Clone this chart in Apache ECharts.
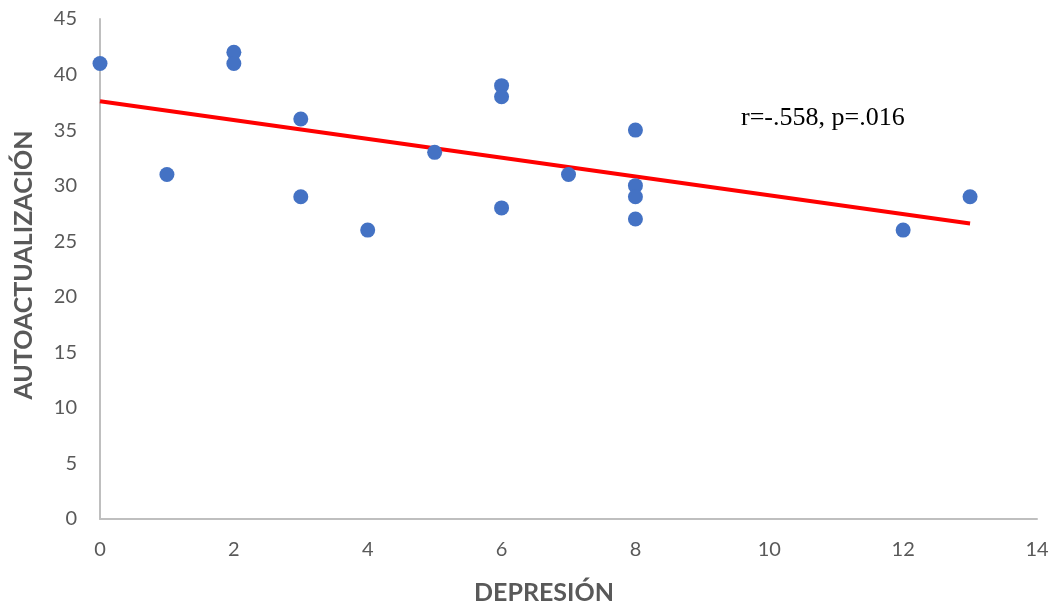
<!DOCTYPE html>
<html><head><meta charset="utf-8">
<script src="https://cdn.jsdelivr.net/npm/echarts@6/dist/echarts.min.js"></script>
<style>html,body{margin:0;padding:0;background:#fff}#c{width:1055px;height:608px}</style>
</head><body><div id="c"></div>
<script>
const depresion = [0, 1, 2, 2, 3, 3, 4, 5, 6, 6, 6, 7, 8, 8, 8, 8, 12, 13];
const autoactualizacion = [41, 31, 42, 41, 36, 29, 26, 33, 39, 38, 28, 31, 35, 30, 29, 27, 26, 29];
const trendX = [0, 13];
const trendY = [37.6, 26.6];
const annotation = 'r=-.558, p=.016';
const xTitle = 'DEPRESIÓN';
const yTitle = 'AUTOACTUALIZACIÓN';

const FONT = 'Lato, Open Sans, Noto Sans, sans-serif';
const chart = echarts.init(document.getElementById('c'));
const axisLabel = {color: '#595959', fontSize: 20, fontFamily: FONT};
const axisLine = {show: true, lineStyle: {color: '#bfbfbf', width: 2}};
chart.setOption({
  animation: false,
  grid: {left: 100, right: 18, top: 19, bottom: 89, containLabel: false, outerBoundsMode: 'none'},
  xAxis: {
    type: 'value', min: 0, max: 14, interval: 2,
    axisLine, axisTick: {show: false}, splitLine: {show: false},
    axisLabel: Object.assign({margin: 21}, axisLabel)
  },
  yAxis: {
    type: 'value', min: 0, max: 45, interval: 5,
    axisLine, axisTick: {show: false}, splitLine: {show: false},
    axisLabel: Object.assign({margin: 23}, axisLabel)
  },
  graphic: [{
    type: 'text', left: 741, top: 105,
    style: {text: annotation, fill: '#000', fontSize: 26, fontFamily: 'Liberation Serif, Times New Roman, serif'}
  }, {
    type: 'text', x: 544, y: 593,
    style: {text: xTitle, fill: '#595959', fontSize: 25, fontWeight: 'bold', fontFamily: FONT, align: 'center', verticalAlign: 'middle'}
  }, {
    type: 'text', x: 24, y: 265, rotation: Math.PI / 2,
    style: {text: yTitle, fill: '#595959', fontSize: 25, fontWeight: 'bold', fontFamily: FONT, align: 'center', verticalAlign: 'middle'}
  }],
  series: [
    {
      type: 'line', data: trendX.map((x, i) => [x, trendY[i]]),
      symbol: 'none', lineStyle: {color: '#ff0000', width: 4}, z: 1
    },
    {
      type: 'scatter', data: depresion.map((x, i) => [x, autoactualizacion[i]]),
      symbolSize: 15, itemStyle: {color: '#4472c4', opacity: 1}, z: 2
    }
  ]
});
</script></body></html>
